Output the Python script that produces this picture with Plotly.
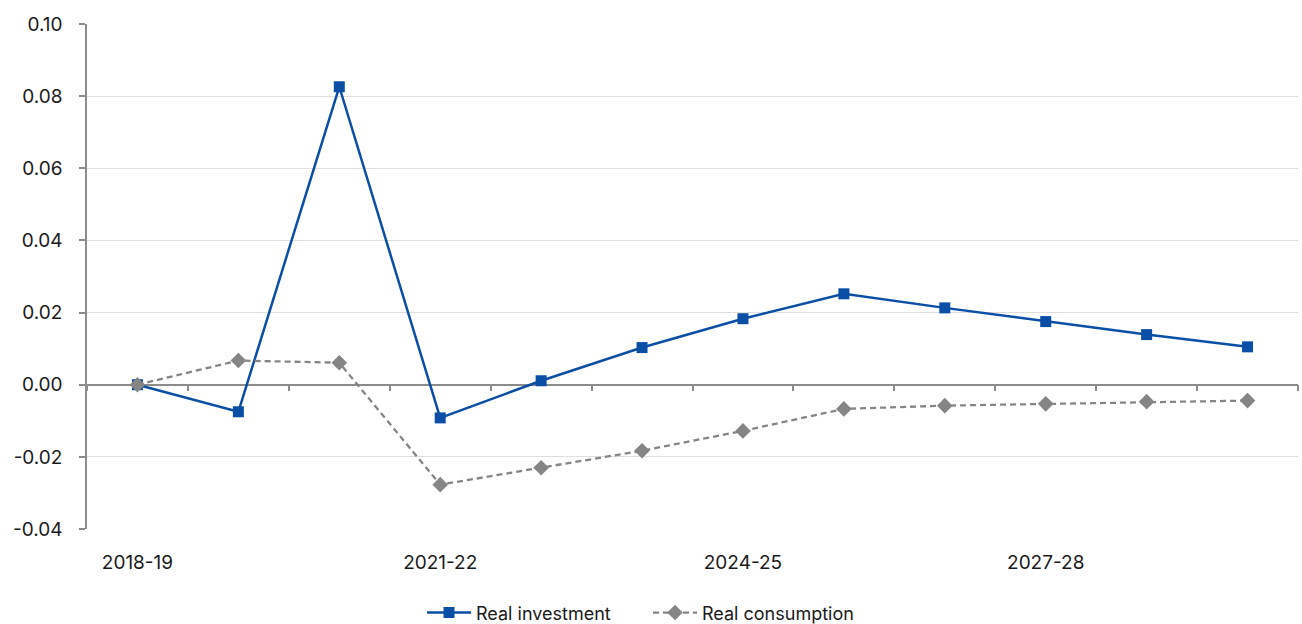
import plotly.graph_objects as go

# Financial years
years = ["2018-19", "2019-20", "2020-21", "2021-22", "2022-23", "2023-24",
         "2024-25", "2025-26", "2026-27", "2027-28", "2028-29", "2029-30"]

# Deviation from baseline
real_investment = [0.0, -0.0075, 0.0826, -0.0092, 0.0011, 0.0103,
                   0.0183, 0.0252, 0.0213, 0.0175, 0.0139, 0.0105]
real_consumption = [0.0, 0.0067, 0.0061, -0.0277, -0.0230, -0.0183,
                    -0.0128, -0.0067, -0.0058, -0.0053, -0.0047, -0.0044]

y_ticks = [-0.04, -0.02, 0.0, 0.02, 0.04, 0.06, 0.08, 0.10]
label_every = 3

idx = list(range(len(years)))
FONT = "Inter, Lato, sans-serif"
BLUE = "#0a4ea6"
GREY = "#858585"
AXIS = "#8c8c8c"

fig = go.Figure()

# Invisible trace so the zero-line axis is drawn
fig.add_trace(go.Scatter(x=idx, y=real_investment, xaxis="x2", mode="lines",
                         line=dict(width=0), opacity=0, showlegend=False,
                         hoverinfo="skip"))

fig.add_trace(go.Scatter(
    x=idx, y=real_investment, name="Real investment", mode="lines+markers",
    line=dict(color=BLUE, width=2.5),
    marker=dict(symbol="square", size=11, color=BLUE),
))
fig.add_trace(go.Scatter(
    x=idx, y=real_consumption, name="Real consumption", mode="lines+markers",
    line=dict(color=GREY, width=2.3, dash="6px,4px"),
    marker=dict(symbol="diamond", size=12, color=GREY),
))

y_lo, y_hi = y_ticks[0], y_ticks[-1]
zero_pos = (0 - y_lo) / (y_hi - y_lo)

fig.update_layout(
    width=1302, height=624,
    margin=dict(l=87, r=4, t=24, b=95, autoexpand=False),
    paper_bgcolor="white", plot_bgcolor="white",
    font=dict(family=FONT, size=19, color="#1a1a1a"),
    xaxis=dict(
        range=[-0.5, len(years) - 0.5],
        tickmode="array",
        tickvals=idx[::label_every],
        ticktext=years[::label_every],
        ticks="", showline=False, showgrid=False, zeroline=False,
        ticklabelstandoff=20,
    ),
    xaxis2=dict(
        overlaying="x", anchor="free", position=zero_pos,
        range=[-0.5, len(years) - 0.5],
        tickmode="array",
        tickvals=[i - 0.5 for i in range(len(years) + 1)],
        showticklabels=False, ticks="outside", ticklen=6, tickwidth=1.5,
        tickcolor=AXIS, showline=True, linecolor=AXIS, linewidth=1.5,
        showgrid=False, zeroline=False, layer="below traces",
    ),
    yaxis=dict(
        range=[y_lo, y_hi],
        tickmode="array", tickvals=y_ticks,
        ticktext=[f"{v:.2f}" for v in y_ticks],
        ticks="outside", ticklen=6, tickwidth=1.5, tickcolor=AXIS,
        showline=True, linecolor=AXIS, linewidth=1.5,
        showgrid=True, gridcolor="#dedede", gridwidth=1,
        zeroline=False, ticklabelstandoff=13,
    ),
    legend=dict(
        orientation="h", xref="container", x=0.4977, xanchor="center",
        y=-0.166, yanchor="middle",
        font=dict(size=18), itemwidth=44, entrywidth=167,
    ),
)

fig.write_html("out.html")
